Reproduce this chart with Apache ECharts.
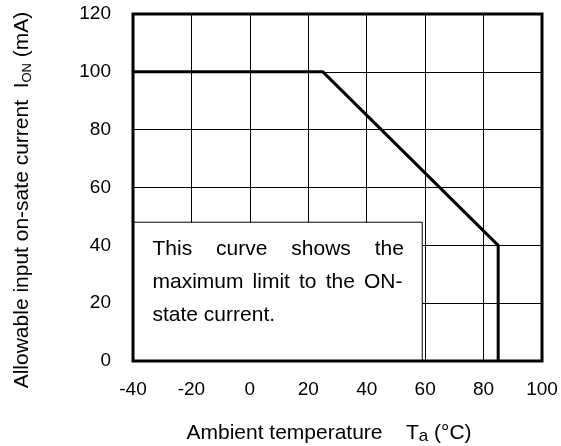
<!DOCTYPE html>
<html>
<head>
<meta charset="utf-8">
<script src="https://cdn.jsdelivr.net/npm/echarts@6.0.0/dist/echarts.min.js"></script>
<style>
  html, body { margin: 0; padding: 0; background: #fff; }
  #chart { width: 561px; height: 446px; }
</style>
</head>
<body>
<div id="chart"></div>
<script>
// ---- data ----
const tempC = [-40, 25, 85, 85];          // Ambient temperature Ta (°C)
const currentMA = [100, 100, 40, 0];      // Allowable on-state current I_ON (mA)
const xMin = -40, xMax = 100, xStep = 20;
const yMin = 0, yMax = 120, yStep = 20;
const noteBox = [[-40, 48], [59, 0]];     // annotation box corners (°C, mA)
const noteLine1 = ['This', 'curve', 'shows', 'the'];
const noteLine2 = ['maximum', 'limit', 'to', 'the', 'ON-'];
const noteLine3 = 'state current.';
const xTitle = 'Ambient temperature    T';
const xTitleSub = 'a';
const xTitleEnd = ' (°C)';
const yTitle = 'Allowable input on-sate current  I';
const yTitleSub = 'ON';
const yTitleEnd = ' (mA)';

const FONT = '"Liberation Sans", Arial, Helvetica, sans-serif';

const chart = echarts.init(document.getElementById('chart'), null, { renderer: 'canvas' });

const noteText =
  noteLine1.map(w => '{t|' + w + '}').join('{g1| }') + '\n' +
  noteLine2.map(w => '{t|' + w + '}').join('{g2| }') + '\n' +
  '{t|' + noteLine3 + '}';

const option = {
  backgroundColor: '#fff',
  animation: false,
  grid: {
    left: 133, right: 19, top: 14, bottom: 85,
    show: true, borderWidth: 3, borderColor: '#000',
    backgroundColor: 'transparent', z: 5,
    outerBoundsMode: 'none'
  },
  xAxis: {
    type: 'value', min: xMin, max: xMax, interval: xStep,
    axisLine: { show: false, onZero: false },
    axisTick: { show: false },
    axisLabel: { color: '#000', fontSize: 19, fontFamily: FONT, margin: 19 },
    splitLine: { show: true, lineStyle: { color: '#000', width: 1 } }
  },
  yAxis: {
    type: 'value', min: yMin, max: yMax, interval: yStep,
    axisLine: { show: false, onZero: false },
    axisTick: { show: false },
    axisLabel: { color: '#000', fontSize: 19, fontFamily: FONT, margin: 22 },
    splitLine: { show: true, lineStyle: { color: '#000', width: 1 } }
  },
  series: [{
    type: 'line',
    data: tempC.map((t, i) => [t, currentMA[i]]),
    symbol: 'none',
    lineStyle: { color: '#000', width: 3 },
    silent: true,
    markArea: {
      silent: true,
      itemStyle: { color: '#fff', borderColor: '#000', borderWidth: 1, opacity: 1 },
      label: {
        show: true,
        position: 'insideTopLeft',
        distance: 0,
        padding: [11, 0, 0, 20],
        formatter: noteText,
        rich: {
          t: { fontSize: 21, lineHeight: 33, fontFamily: FONT, color: '#000' },
          g1: { fontSize: 21, lineHeight: 33, width: 23.9, fontFamily: FONT },
          g2: { fontSize: 21, lineHeight: 33, width: 9.1, fontFamily: FONT }
        }
      },
      data: [[{ coord: noteBox[0] }, { coord: noteBox[1] }]]
    }
  }],
  graphic: [
    {
      type: 'text',
      x: 329, y: 433,
      silent: true,
      style: {
        text: '{m|' + xTitle + '}{s|' + xTitleSub + '}{m|' + xTitleEnd + '}',
        align: 'center', verticalAlign: 'middle',
        textAlign: 'center', textVerticalAlign: 'middle',
        fill: '#000',
        rich: {
          m: { fontSize: 21, lineHeight: 24, fontFamily: FONT, fill: '#000' },
          s: { fontSize: 17, lineHeight: 20, fontFamily: FONT, fill: '#000', verticalAlign: 'bottom' }
        }
      }
    },
    {
      type: 'text',
      x: 22, y: 200,
      rotation: Math.PI / 2,
      silent: true,
      style: {
        text: '{m|' + yTitle + '}{s|' + yTitleSub + '}{m|' + yTitleEnd + '}',
        align: 'center', verticalAlign: 'middle',
        textAlign: 'center', textVerticalAlign: 'middle',
        fill: '#000',
        rich: {
          m: { fontSize: 21, lineHeight: 24, fontFamily: FONT, fill: '#000' },
          s: { fontSize: 13, lineHeight: 14, fontFamily: FONT, fill: '#000', verticalAlign: 'bottom' }
        }
      }
    }
  ]
};

chart.setOption(option);
</script>
</body>
</html>
